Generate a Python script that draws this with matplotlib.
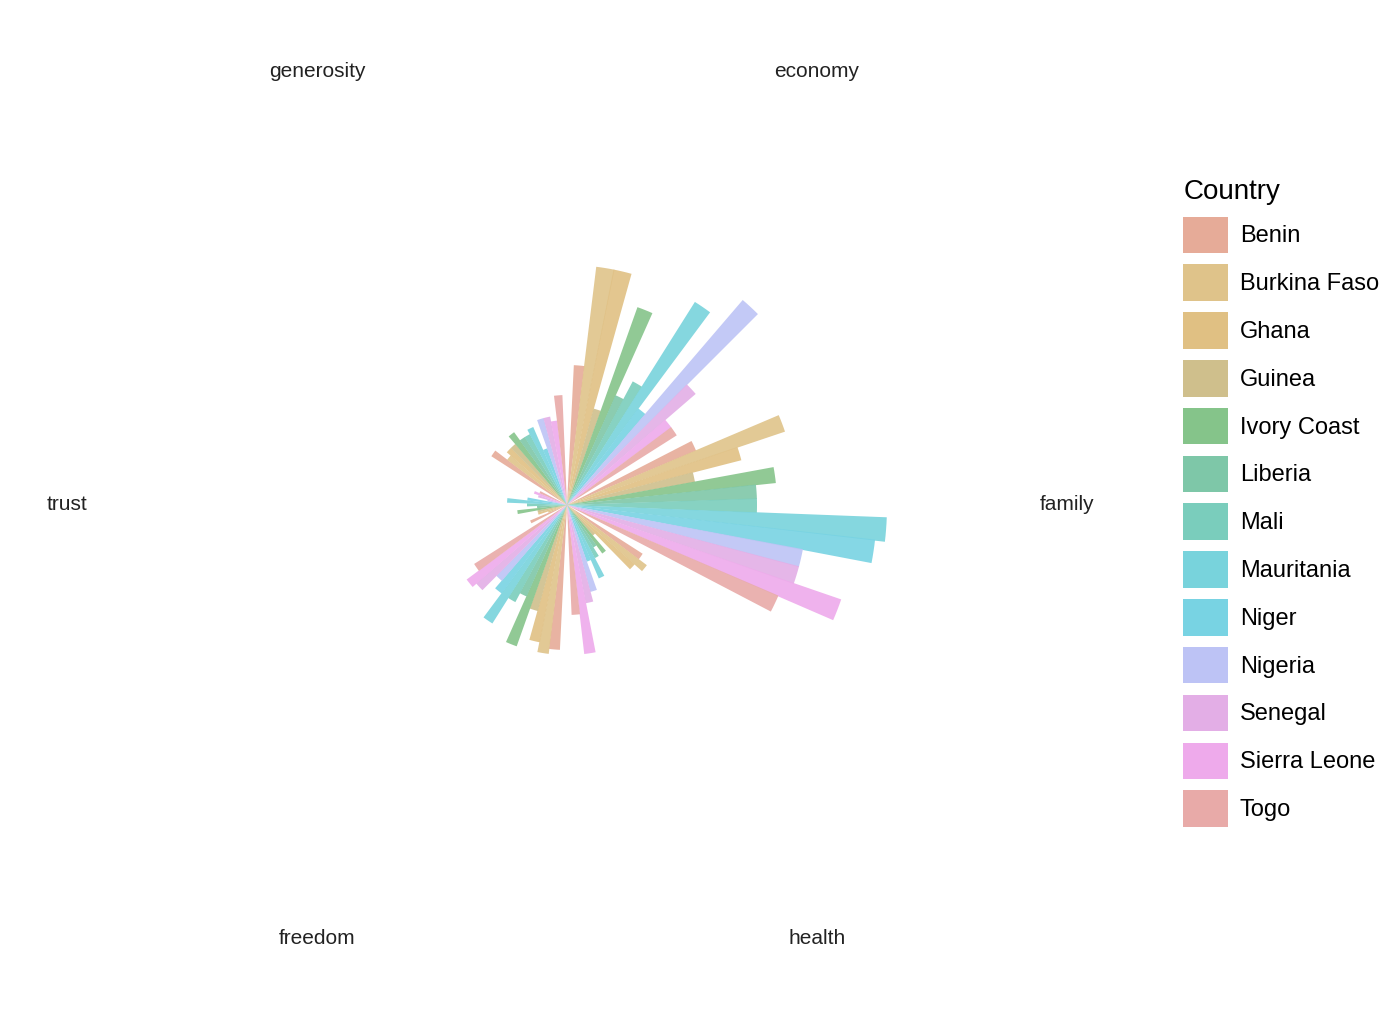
import matplotlib.pyplot as plt
import numpy as np
from matplotlib.patches import Patch

plt.rcParams["font.family"] = ["Liberation Sans", "DejaVu Sans"]

countries = ["Benin", "Burkina Faso", "Ghana", "Guinea", "Ivory Coast", "Liberia", "Mali",
             "Mauritania", "Niger", "Nigeria", "Senegal", "Sierra Leone", "Togo"]
colors = ["#e6ab98", "#dfc38a", "#e0c083", "#cfbf8c", "#85c48a", "#7ec7a8", "#7acdbc",
          "#78d3dc", "#78d3e3", "#bdc3f5", "#e3aee6", "#eeaaeb", "#e8aaa8"]

factors = ["economy", "family", "health", "freedom", "trust", "generosity"]
centers = [60, 0, -60, -120, 180, 120]

# bar length per factor, one value per country
economy = [140, 240, 240, 100, 210, 120, 140, 240, 120, 270, 170, 130, 130]
family = [140, 230, 180, 130, 210, 190, 190, 320, 310, 240, 240, 290, 230]
health = [90, 100, 90, 40, 60, 50, 60, 80, 60, 90, 100, 150, 110]
freedom = [145, 150, 140, 110, 150, 100, 110, 140, 110, 100, 120, 125, 110]
trust = [40, 20, 30, 30, 50, 30, 40, 60, 40, 20, 30, 35, 30]
generosity = [90, 75, 80, 80, 90, 80, 80, 85, 60, 90, 90, 85, 110]
values = [economy, family, health, freedom, trust, generosity]

fig = plt.figure(figsize=(14, 10.17), dpi=100)
cx, cy, R = 567, 505, 560
W, H = 1400, 1017
ax = fig.add_axes([(cx - R) / W, (H - cy - R) / H, 2 * R / W, 2 * R / H], projection="polar")
ax.set_ylim(0, R)
ax.axis("off")

step = 4.2
for name, c, vals in zip(factors, centers, values):
    for i, v in enumerate(vals):
        th = np.deg2rad(c + 25 - i * step)
        ax.bar(th, v, width=np.deg2rad(4.4), color=colors[i], alpha=0.9, linewidth=0)
    ax.text(np.deg2rad(c), 500, name, ha="center", va="center", fontsize=15, color="#222222")

handles = [Patch(facecolor=col, edgecolor="none") for col in colors]
fig.legend(handles, countries, title="Country", loc="upper left",
           bbox_to_anchor=(1162 / W, 1 - 158 / H), frameon=False, fontsize=17,
           title_fontsize=20, handlelength=1.9, handleheight=2.0, labelspacing=0.48,
           handletextpad=0.5, alignment="left")

fig.savefig("out.png", dpi=100)
